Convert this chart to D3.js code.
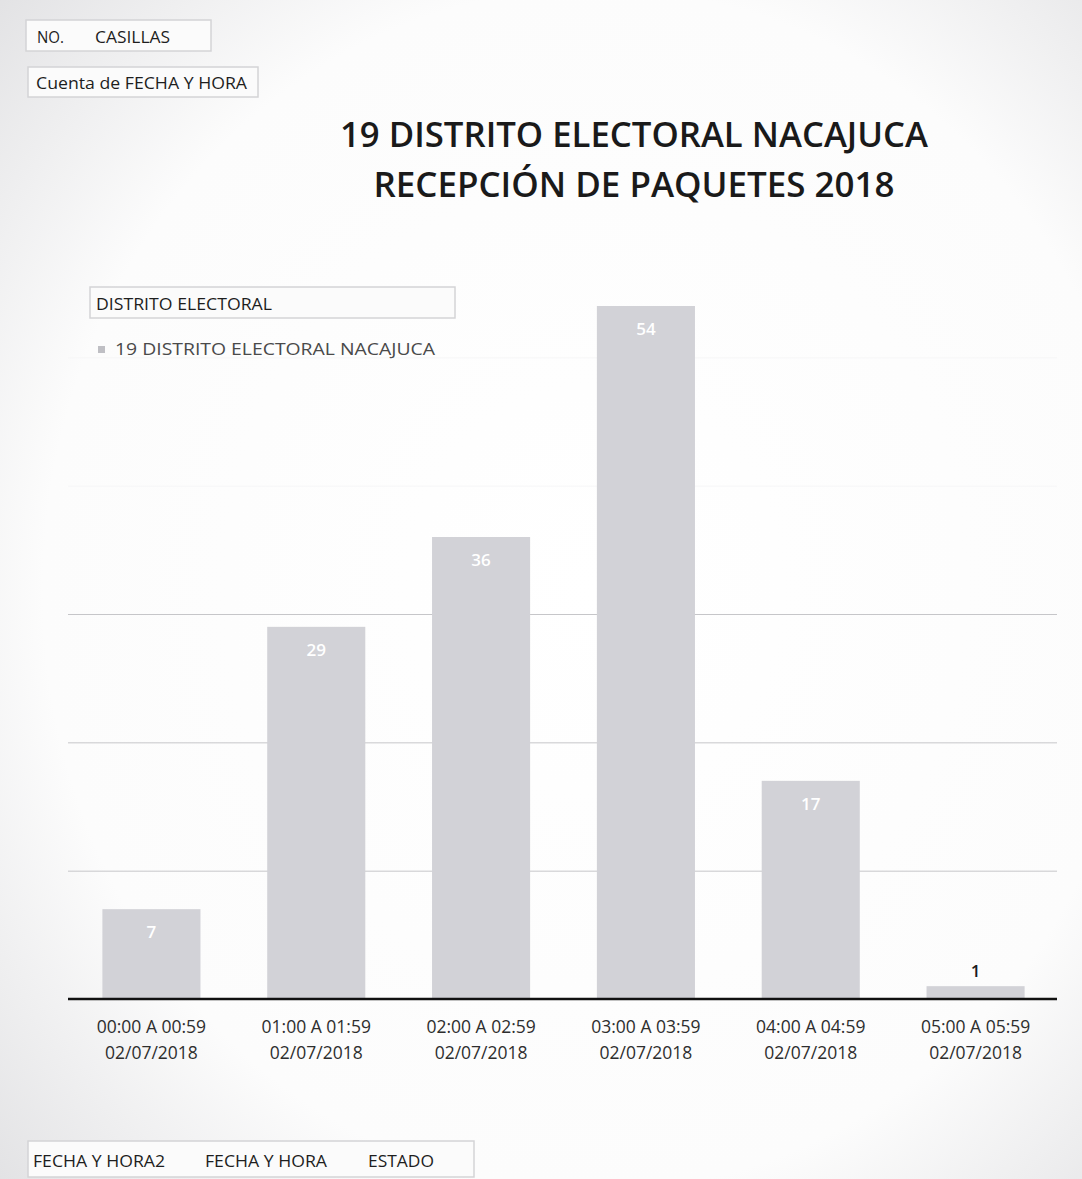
<!DOCTYPE html>
<html>
<head>
<meta charset="utf-8">
<script src="https://cdn.jsdelivr.net/npm/d3@7"></script>
<style>
  html, body { margin: 0; padding: 0; background: #ffffff; }
  svg { display: block; }
  text { font-family: "Open Sans", "Noto Sans", sans-serif; }
</style>
</head>
<body>
<script>
// ---- data ----
const categories = [
  ["00:00 A 00:59", "02/07/2018"],
  ["01:00 A 01:59", "02/07/2018"],
  ["02:00 A 02:59", "02/07/2018"],
  ["03:00 A 03:59", "02/07/2018"],
  ["04:00 A 04:59", "02/07/2018"],
  ["05:00 A 05:59", "02/07/2018"]
];
const values = [7, 29, 36, 54, 17, 1];
const gridTicks = [10, 20, 30];
const faintTicks = [40, 50];
const titleLines = ["19 DISTRITO ELECTORAL NACAJUCA", "RECEPCIÓN DE PAQUETES 2018"];
const legendTitle = "DISTRITO ELECTORAL";
const seriesName = "19 DISTRITO ELECTORAL NACAJUCA";
const topButtons = ["NO.", "CASILLAS"];
const valueField = "Cuenta de FECHA Y HORA";
const bottomButtons = ["FECHA Y HORA2", "FECHA Y HORA", "ESTADO"];

// ---- layout ----
const W = 1082, H = 1179;
const svg = d3.select("body").append("svg").attr("width", W).attr("height", H);
const defs = svg.append("defs");

const bg = defs.append("radialGradient").attr("id", "bg")
  .attr("cx", "55%").attr("cy", "50%").attr("r", "75%");
bg.append("stop").attr("offset", "0%").attr("stop-color", "#ffffff");
bg.append("stop").attr("offset", "68%").attr("stop-color", "#fcfcfc");
bg.append("stop").attr("offset", "100%").attr("stop-color", "#e2e2e4");
svg.append("rect").attr("width", W).attr("height", H).attr("fill", "url(#bg)");

const x = d3.scaleBand()
  .domain(categories.map((d, i) => i))
  .range([69, 1058])
  .paddingInner(0.405)
  .paddingOuter(0.2025);
const y = d3.scaleLinear().domain([0, 60]).range([999, 229]);

// gridlines
svg.append("g")
  .attr("transform", "translate(68,0)")
  .call(d3.axisLeft(y).tickValues(gridTicks).tickSize(-989).tickFormat(""))
  .call(g => g.select(".domain").remove())
  .call(g => g.selectAll("line").attr("stroke", "#c6c6c9").attr("stroke-width", 1));
svg.append("g")
  .attr("transform", "translate(68,0)")
  .call(d3.axisLeft(y).tickValues(faintTicks).tickSize(-989).tickFormat(""))
  .call(g => g.select(".domain").remove())
  .call(g => g.selectAll("line").attr("stroke", "#f6f6f7").attr("stroke-width", 1));

// bars
svg.append("g").selectAll("rect")
  .data(values)
  .join("rect")
  .attr("x", (d, i) => x(i))
  .attr("y", d => y(d))
  .attr("width", x.bandwidth())
  .attr("height", d => y(0) - y(d))
  .attr("fill", "#d2d2d7");

// data labels
svg.append("g").selectAll("text")
  .data(values)
  .join("text")
  .attr("x", (d, i) => x(i) + x.bandwidth() / 2)
  .attr("y", d => (y(0) - y(d) > 40 ? y(d) + 29 : y(d) - 9))
  .attr("text-anchor", "middle")
  .attr("font-size", 17)
  .attr("font-weight", 600)
  .attr("fill", d => (y(0) - y(d) > 40 ? "#ffffff" : "#1a1a1a"))
  .text(d => d);

// x axis
const xAxis = svg.append("g")
  .attr("transform", "translate(0,999)")
  .call(d3.axisBottom(x).tickSize(0).tickFormat(""));
xAxis.select(".domain").attr("stroke", "#111").attr("stroke-width", 2.4)
  .attr("d", "M68,0H1057");
xAxis.selectAll(".tick").each(function(d) {
  const t = d3.select(this).append("text")
    .attr("text-anchor", "middle")
    .attr("fill", "#2e2e2e")
    .attr("font-size", 17.5);
  t.append("tspan").attr("x", 0).attr("y", 34).text(categories[d][0]);
  t.append("tspan").attr("x", 0).attr("y", 60).text(categories[d][1]);
});

// title
svg.append("g").selectAll("text")
  .data(titleLines)
  .join("text")
  .attr("x", 634)
  .attr("y", (d, i) => 147 + i * 50)
  .attr("text-anchor", "middle")
  .attr("font-size", 35)
  .attr("font-weight", 600)
  .attr("fill", "#1a1a1a")
  .attr("textLength", (d, i) => [588, 521][i])
  .attr("lengthAdjust", "spacingAndGlyphs")
  .text(d => d);

// buttons (pivot field buttons)
function button(x0, y0, w, h) {
  svg.append("rect").attr("x", x0).attr("y", y0).attr("width", w).attr("height", h)
    .attr("fill", "#fbfbfb").attr("stroke", "#d4d4d6").attr("stroke-width", 1.5);
}
function label(x0, y0, t, len, fill) {
  svg.append("text").attr("x", x0).attr("y", y0).attr("font-size", 17)
    .attr("fill", fill || "#1e1e1e")
    .attr("textLength", len).attr("lengthAdjust", "spacingAndGlyphs")
    .text(t);
}
button(26, 20, 185, 31);
label(37, 43, topButtons[0], 27);
label(95, 43, topButtons[1], 75);

button(28, 67, 230, 30);
label(36, 89, valueField, 211);

// legend
button(90, 287, 365, 31);
label(96, 310, legendTitle, 176);
svg.append("rect").attr("x", 98).attr("y", 346).attr("width", 7).attr("height", 7).attr("fill", "#bfbfc4");
label(115, 355, seriesName, 320, "#4a4a4a");

// bottom buttons
button(28, 1141, 446, 36);
const bx = [33, 205, 368];
const bl = [132, 122, 66];
bottomButtons.forEach((b, i) => label(bx[i], 1167, b, bl[i]));
</script>
</body>
</html>
